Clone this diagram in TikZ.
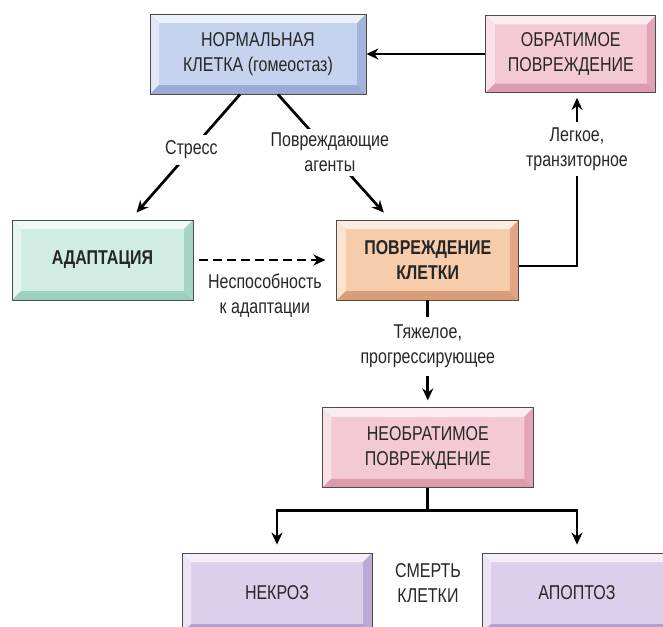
\documentclass[tikz,border=0pt]{standalone}
\usepackage{fontspec}
\setmainfont{Liberation Sans}[FakeStretch=0.8]
\usetikzlibrary{positioning, arrows.meta, calc}

\definecolor{normfill}{HTML}{C6D3EE}
\definecolor{normdark}{HTML}{9AACD6}
\definecolor{revfill}{HTML}{F3CAD3}
\definecolor{revdark}{HTML}{DC9CAD}
\definecolor{adfill}{HTML}{D1EDE3}
\definecolor{addark}{HTML}{9CCFBD}
\definecolor{injfill}{HTML}{F6CCAA}
\definecolor{injdark}{HTML}{DB9C78}
\definecolor{deathfill}{HTML}{DBCFEB}
\definecolor{deathdark}{HTML}{B39FD1}

\newcommand{\dgfont}{\fontsize{20}{25.5}\selectfont}

\begin{document}
\begin{tikzpicture}[
  x=1pt, y=-1pt,
  font=\dgfont,
  text=black!85,
  box/.style 2 args={draw=black!70, line width=0.8pt, fill=#1, align=center, inner sep=0pt,
    minimum height=80pt,
    path picture={
      \coordinate (bsw) at (path picture bounding box.south west);
      \coordinate (bne) at (path picture bounding box.north east);
      \coordinate (bnw) at (bsw|-bne);
      \coordinate (bse) at (bne|-bsw);
      \fill[#1!35!white] (bnw) -- (bne) -- ($(bne)+(-9pt,-9pt)$) -- ($(bnw)+(9pt,-9pt)$) -- cycle;
      \fill[#1!55!white] (bnw) -- ($(bnw)+(9pt,-9pt)$) -- ($(bsw)+(9pt,9pt)$) -- (bsw) -- cycle;
      \fill[#2] (bsw) -- ($(bsw)+(9pt,9pt)$) -- ($(bse)+(-9pt,9pt)$) -- (bse) -- cycle;
      \fill[#2!80!#1] (bse) -- ($(bse)+(-9pt,9pt)$) -- ($(bne)+(-9pt,-9pt)$) -- (bne) -- cycle;
    }},
  heavy/.style={font=\dgfont\bfseries},
  lbl/.style={align=center, fill=white, inner sep=6pt},
  arr/.style={-{Stealth[length=12pt, width=11pt]}, line width=2.7pt},
  line/.style={line width=2.7pt}
]
\useasboundingbox (0,0) rectangle (663,626);
\clip (0,0) rectangle (663,626);

\node[box={normfill}{normdark}, minimum width=216pt] (normal) at (258,54) {НОРМАЛЬНАЯ\\КЛЕТКА (гомеостаз)};
\node[box={revfill}{revdark}, minimum width=170pt, minimum height=77pt, right=119pt of normal] (reversible) {ОБРАТИМОЕ\\ПОВРЕЖДЕНИЕ};
\node[box={adfill}{addark}, minimum width=181pt, heavy] (adapt) at (102.5,260) {АДАПТАЦИЯ};
\node[box={injfill}{injdark}, minimum width=182pt, heavy, right=143pt of adapt] (injury) {ПОВРЕЖДЕНИЕ\\КЛЕТКИ};
\node[box={revfill}{revdark}, minimum width=211pt, below=107pt of injury] (irrev) {НЕОБРАТИМОЕ\\ПОВРЕЖДЕНИЕ};
\node[box={deathfill}{deathdark}, minimum width=190pt] (necrosis) at (277,593) {НЕКРОЗ};
\node[box={deathfill}{deathdark}, minimum width=190pt] (apoptosis) at (577,593) {АПОПТОЗ};
\node[align=center] (death) at (428,583) {СМЕРТЬ\\КЛЕТКИ};

% upper part
\draw[arr] (reversible.west) -- (normal.east);
\draw[arr] ($(normal.south)+(-18,0)$) -- node[lbl, pos=0.47] (stress) {Стресс} ($(adapt.north)+(34,-7)$);
\draw[arr] ($(normal.south)+(20,0)$) -- node[lbl, inner sep=4pt, pos=0.49] (agents) {Повреждающие\\агенты} ($(injury.north)+(-44,-7)$);
\node[lbl, inner sep=5pt] (light) at (577,149) {Легкое,\\транзиторное};
\draw[line] ([yshift=-6pt]injury.east) -| (light.south);
\draw[arr, shorten >=5pt] (light.north) -- (light.north |- reversible.south);
\draw[arr, dashed, dash pattern=on 9pt off 5pt, shorten <=6pt, shorten >=11pt] (adapt.east) -- node[below, align=center, inner sep=12pt] (unable) {Неспособность\\к адаптации} (injury.west);

% lower part
\draw[arr, shorten >=7pt] (injury.south) -- node[lbl, pos=0.43, inner sep=8pt] (severe) {Тяжелое,\\прогрессирующее} (irrev.north);
\coordinate (split) at ($(irrev.south)+(0,22)$);
\draw[arr, shorten >=8pt] (irrev.south) -- (split) -| (necrosis.north);
\draw[arr, shorten >=8pt] (split) -| (apoptosis.north);
\end{tikzpicture}
\end{document}
